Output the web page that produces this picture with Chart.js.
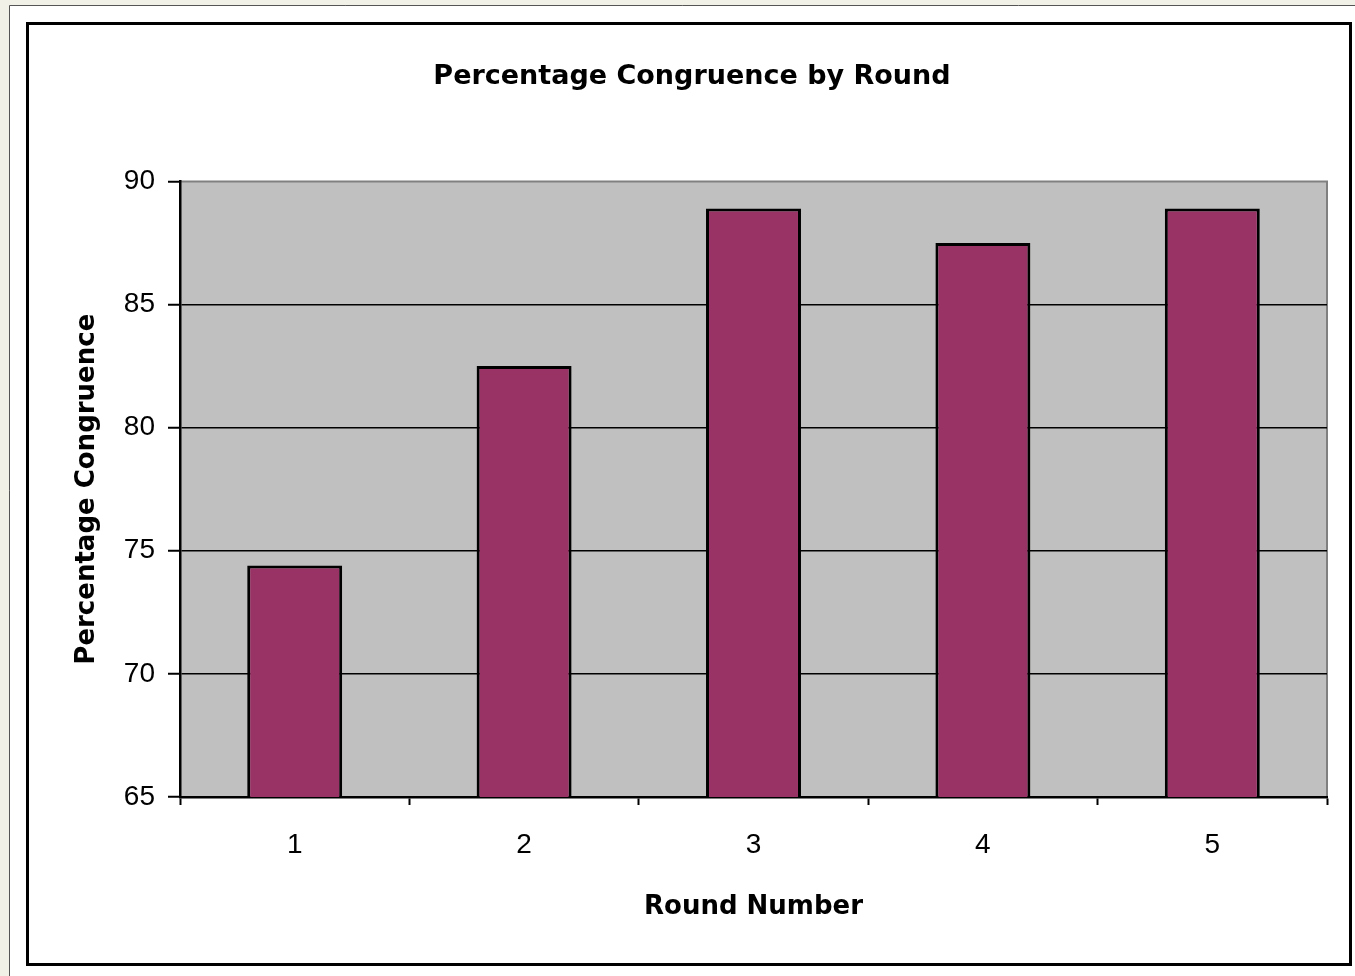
<!DOCTYPE html>
<html>
<head>
<meta charset="utf-8">
<title>Percentage Congruence by Round</title>
<script src="https://cdn.jsdelivr.net/npm/chart.js@4.4.1/dist/chart.umd.min.js"></script>
<style>
  html, body { margin: 0; padding: 0; background: #ffffff; }
  canvas { display: block; }
</style>
</head>
<body>
<canvas id="myChart" width="1355" height="976"></canvas>
<script>
// data
const rounds = ["1", "2", "3", "4", "5"];
const congruence = [74.4, 82.5, 88.9, 87.5, 88.9];
const yTicks = [65, 70, 75, 80, 85, 90];

const barColor = "#993366";
const plotGray = "#c0c0c0";

// slide frame + gray plot area behind everything
const backdrop = {
  id: "backdrop",
  beforeDraw(chart) {
    const ctx = chart.ctx;
    const area = chart.chartArea;
    ctx.save();
    // cream margin of the slide
    ctx.fillStyle = "#f1f1e7";
    ctx.fillRect(0, 0, chart.width, chart.height);
    ctx.fillStyle = "#ffffff";
    ctx.fillRect(10, 6, chart.width - 10, chart.height - 6);
    ctx.strokeStyle = "#555555";
    ctx.lineWidth = 1;
    ctx.beginPath();
    ctx.moveTo(9.5, chart.height);
    ctx.lineTo(9.5, 5.5);
    ctx.lineTo(chart.width, 5.5);
    ctx.stroke();
    // chart border
    ctx.strokeStyle = "#000000";
    ctx.lineWidth = 3;
    ctx.strokeRect(27.5, 23.5, 1323, 941);
    // plot area
    ctx.fillStyle = plotGray;
    ctx.fillRect(area.left, area.top, area.right - area.left, area.bottom - area.top);
    ctx.strokeStyle = "#808080";
    ctx.lineWidth = 2;
    ctx.beginPath();
    ctx.moveTo(area.left, area.top);
    ctx.lineTo(area.right, area.top);
    ctx.lineTo(area.right, area.bottom);
    ctx.stroke();
    ctx.restore();
  }
};

const ctx = document.getElementById("myChart").getContext("2d");
const myChart = new Chart(ctx, {
  type: "bar",
  data: {
    labels: rounds,
    datasets: [
      {
        label: "Percentage Congruence",
        data: congruence,
        backgroundColor: barColor,
        borderColor: "#000000",
        borderWidth: 3,
        borderSkipped: false,
        categoryPercentage: 1,
        barPercentage: 0.414,
      },
    ],
  },
  options: {
    responsive: false,
    animation: false,
    devicePixelRatio: 1,
    layout: {
      padding: { top: 0, left: 57, right: 28, bottom: 0 },
    },
    plugins: {
      legend: { display: false },
      tooltip: { enabled: false },
      title: {
        display: true,
        text: "Percentage Congruence by Round",
        color: "#000000",
        font: { family: "DejaVu Sans", size: 27, weight: "bold", lineHeight: 1.2 },
        padding: { top: 61, bottom: 88 },
      },
    },
    scales: {
      x: {
        offset: true,
        afterFit(scale) {
          scale.height = 179;
        },
        grid: {
          display: true,
          offset: true,
          drawOnChartArea: false,
          drawTicks: true,
          tickLength: 8,
          tickColor: "#000000",
          tickWidth: 2,
        },
        border: { display: true, color: "#000000", width: 2.5 },
        ticks: {
          color: "#000000",
          padding: 23,
          font: { family: "Liberation Sans", size: 28, lineHeight: 1.2 },
        },
        title: {
          display: true,
          text: "Round Number",
          color: "#000000",
          font: { family: "DejaVu Sans", size: 26, weight: "bold", lineHeight: 1.2 },
          padding: { top: 0, bottom: 53 },
        },
      },
      y: {
        min: 65,
        max: 90,
        afterFit(scale) {
          scale.width = 123;
        },
        afterBuildTicks(scale) {
          scale.ticks = yTicks.map((v) => ({ value: v }));
        },
        grid: {
          color: (c) => (c.tick && c.tick.value === 90 ? "rgba(0,0,0,0)" : "#000000"),
          lineWidth: 1.5,
          drawTicks: true,
          tickLength: 12,
          tickColor: "#000000",
          tickWidth: 2,
        },
        border: { display: true, color: "#000000", width: 2.5 },
        ticks: {
          color: "#000000",
          padding: 13,
          font: { family: "Liberation Sans", size: 28, lineHeight: 1.2 },
        },
        title: {
          display: true,
          text: "Percentage Congruence",
          color: "#000000",
          font: { family: "DejaVu Sans", size: 26, weight: "bold", lineHeight: 1.2 },
          padding: { top: 15, bottom: 0 },
        },
      },
    },
  },
  plugins: [backdrop],
});
</script>
</body>
</html>
